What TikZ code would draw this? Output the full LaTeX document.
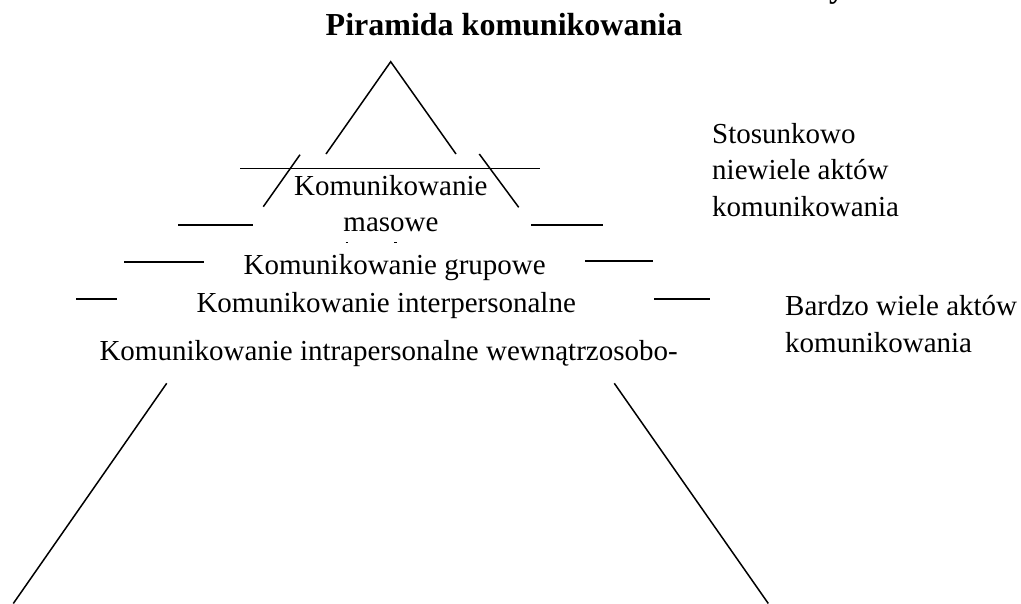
\documentclass[tikz,border=0pt]{standalone}
\usepackage{fontspec}
\setmainfont{Liberation Serif}
\begin{document}
\begin{tikzpicture}[x=1pt,y=-1pt,
  lbl/.style={inner sep=0pt,font=\fontsize{29}{36.5}\selectfont},
  ttl/.style={inner sep=0pt,font=\fontsize{32}{38}\selectfont\bfseries},
  edge/.style={line width=1.5pt,black},
  bar/.style={line width=1.8pt,black}]
\useasboundingbox (0,0) rectangle (1021,603);
% title
\node[ttl,anchor=base] (title) at (504,35.5) {Piramida komunikowania};
\begin{scope}
\clip (0,0) rectangle (1021,603);
\node[ttl,anchor=base] (ypart) at (837,-3) {y};
\end{scope}
% pyramid apex
\coordinate (apex) at (390.7,61.7);
\coordinate (aL) at (326,154);
\coordinate (aR) at (456,154);
\draw[edge] (aL) -- (apex) -- (aR);
\coordinate (bL1) at (300,154.7);
\coordinate (bL2) at (263.3,206.7);
\coordinate (bR1) at (479.3,154);
\coordinate (bR2) at (518.7,207.3);
\draw[edge] (bL1) -- (bL2);
\draw[edge] (bR1) -- (bR2);
\coordinate (h0a) at (240,168.3);
\coordinate (h0b) at (540,168.3);
\draw[edge] (h0a) -- (h0b);
% level bars
\coordinate (h1a) at (178.3,225); \coordinate (h1b) at (253.3,225);
\coordinate (h1c) at (531,225);   \coordinate (h1d) at (602.7,225);
\coordinate (h2a) at (124.3,262.3); \coordinate (h2b) at (204.3,262.3);
\coordinate (h2c) at (585,261);     \coordinate (h2d) at (653.3,261);
\coordinate (h3a) at (76,299);   \coordinate (h3b) at (117.3,299);
\coordinate (h3c) at (654,299.3); \coordinate (h3d) at (710,299.3);
\draw[bar] (h1a) -- (h1b);
\draw[bar] (h1c) -- (h1d);
\draw[bar] (h2a) -- (h2b);
\draw[bar] (h2c) -- (h2d);
\draw[bar] (h3a) -- (h3b);
\draw[bar] (h3c) -- (h3d);
% small marks
\coordinate (m1a) at (345.5,242.5); \coordinate (m1b) at (348,242.5);
\coordinate (m2a) at (394,242.5);   \coordinate (m2b) at (396.5,242.5);
\draw[line width=1pt] (m1a) -- (m1b);
\draw[line width=1pt] (m2a) -- (m2b);
% bottom lines
\coordinate (cL1) at (166.7,383.3); \coordinate (cL2) at (13.3,603.5);
\coordinate (cR1) at (614.3,383.3); \coordinate (cR2) at (768.3,603.5);
\draw[edge] (cL1) -- (cL2);
\draw[edge] (cR1) -- (cR2);
% level labels
\node[lbl,anchor=base] (masa1) at (390.8,195) {Komunikowanie};
\node[lbl,anchor=base] (masa2) at (391,231) {masowe};
\node[lbl,anchor=base] (grup) at (394.7,274) {Komunikowanie grupowe};
\node[lbl,anchor=base] (inter) at (386.2,312.5) {Komunikowanie interpersonalne};
\node[lbl,anchor=base west] (intra) at (99.3,360) {Komunikowanie intrapersonalne wewnątrzosobo-};
% side notes (base anchor = baseline of last line)
\node[lbl,anchor=base west,align=left] (few) at (712,216) {Stosunkowo\\niewiele aktów\\komunikowania};
\node[lbl,anchor=base west,align=left] (many) at (785,352) {Bardzo wiele aktów\\komunikowania};
\end{tikzpicture}
\end{document}
